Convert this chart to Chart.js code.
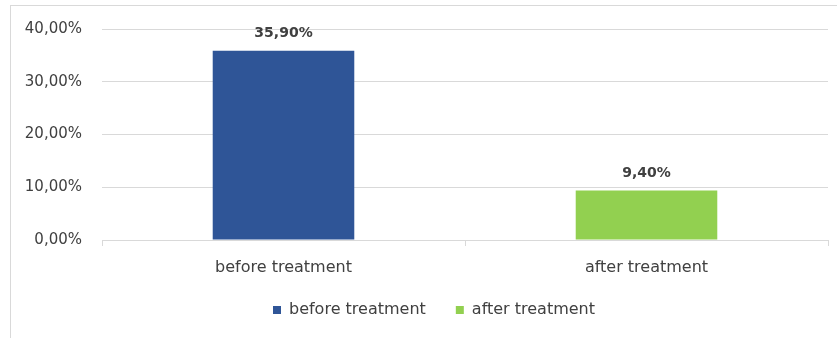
<!DOCTYPE html>
<html>
<head>
<meta charset="utf-8">
<script src="https://cdn.jsdelivr.net/npm/chart.js@4/dist/chart.umd.min.js"></script>
<style>
    body { margin: 0; background: #fff; overflow: hidden; }
    #frame {
        position: absolute; left: 10px; top: 5px; width: 900px; height: 400px;
        border-left: 1px solid #d9d9d9; border-top: 1px solid #d9d9d9;
    }
    #wrap { position: absolute; left: 0; top: 0; width: 837px; height: 338px; }
</style>
</head>
<body>
<div id="frame"></div>
<div id="wrap"><canvas id="barChart"></canvas></div>
<script>
// Chart data
const categories = ['before treatment', 'after treatment'];
const values = [0.359, 0.094];
const barColors = ['#2f5597', '#92d050'];
const yTicks = [0, 0.1, 0.2, 0.3, 0.4];

const textColor = '#404040';
const fontFamily = '"DejaVu Sans", sans-serif';

// comma decimal percent, e.g. 35,90%
function pct(v) {
    return (v * 100).toFixed(2).replace('.', ',') + '%';
}

// Draw value labels above each bar
const valueLabels = {
    id: 'valueLabels',
    afterDatasetsDraw(chart) {
        const ctx = chart.ctx;
        const meta = chart.getDatasetMeta(0);
        ctx.save();
        ctx.font = 'bold 14px ' + fontFamily;
        ctx.fillStyle = textColor;
        ctx.textAlign = 'center';
        ctx.textBaseline = 'bottom';
        meta.data.forEach((bar, i) => {
            ctx.fillText(pct(values[i]), bar.x, bar.y - 10);
        });
        ctx.restore();
    }
};

// Nudge the legend a bit to the right, like the original
const legendShift = {
    id: 'legendShift',
    afterLayout(chart) {
        if (chart.legend) {
            chart.legend.left += 20;
            chart.legend.right += 20;
        }
    }
};

const ctx = document.getElementById('barChart').getContext('2d');
new Chart(ctx, {
    type: 'bar',
    data: {
        labels: categories,
        datasets: [{
            data: values,
            backgroundColor: barColors,
            borderWidth: 0,
            barPercentage: 0.39,
            categoryPercentage: 1
        }]
    },
    options: {
        responsive: true,
        maintainAspectRatio: false,
        animation: false,
        layout: {
            padding: { top: 28, right: 9, left: 0, bottom: 10 }
        },
        plugins: {
            tooltip: { enabled: false },
            legend: {
                display: true,
                position: 'bottom',
                labels: {
                    boxWidth: 8,
                    boxHeight: 8,
                    padding: 30,
                    color: textColor,
                    font: { family: fontFamily, size: 16 },
                    generateLabels: () => categories.map((c, i) => ({
                        text: c,
                        fillStyle: barColors[i],
                        strokeStyle: barColors[i],
                        fontColor: textColor,
                        lineWidth: 0,
                        hidden: false,
                        index: i
                    }))
                }
            }
        },
        scales: {
            x: {
                afterFit(scale) { scale.height = 32; },
                grid: {
                    display: true,
                    offset: true,
                    drawOnChartArea: false,
                    drawTicks: true,
                    tickLength: 6,
                    color: '#d9d9d9'
                },
                border: { display: true, color: '#d9d9d9' },
                ticks: {
                    color: textColor,
                    padding: 12,
                    font: { family: fontFamily, size: 16 }
                }
            },
            y: {
                min: 0,
                max: 0.4,
                afterFit(scale) { scale.width = 102; },
                afterBuildTicks(scale) {
                    scale.ticks = yTicks.map(v => ({ value: v }));
                },
                grid: { color: '#d9d9d9', drawTicks: false },
                border: { display: false },
                ticks: {
                    color: textColor,
                    padding: 20,
                    font: { family: fontFamily, size: 15 },
                    callback: function(value) {
                        return pct(value);
                    }
                }
            }
        }
    },
    plugins: [valueLabels, legendShift]
});
</script>
</body>
</html>
